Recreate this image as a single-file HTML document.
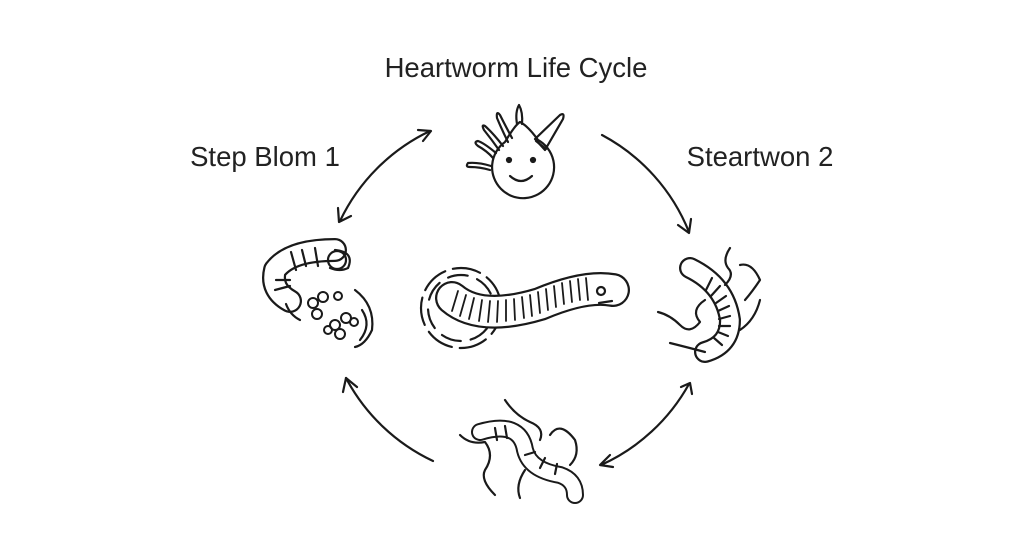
<!DOCTYPE html>
<html><head><style>
html,body{margin:0;padding:0;background:#fff;width:1024px;height:559px;overflow:hidden}
svg{display:block}
text{font-family:"Liberation Sans",sans-serif;fill:#222}
</style></head><body>
<svg width="1024" height="559" viewBox="0 0 1024 559" fill="none" stroke="#1a1a1a" stroke-width="2.2" stroke-linecap="round" stroke-linejoin="round">
<text x="516" y="77" font-size="27.5" text-anchor="middle" stroke="none">Heartworm Life Cycle</text>
<text x="265" y="166" font-size="27.5" text-anchor="middle" stroke="none">Step Blom 1</text>
<text x="760" y="166" font-size="27.5" text-anchor="middle" stroke="none">Steartwon 2</text>

<!-- arrows -->
<path d="M430 131 A190 190 0 0 0 340 221"/>
<path d="M418 130 L431 131 L423 141"/><path d="M338 208 L339 222 L351 216"/>
<path d="M602 135 A190 190 0 0 1 689 232"/>
<path d="M678 225 L689 233 L691 219"/>
<path d="M689 384 A190 190 0 0 1 601 465"/>
<path d="M681 387 L690 383 L692 394"/><path d="M610 455 L600 465 L613 467"/>
<path d="M433 461 A190 190 0 0 1 346 378"/>
<path d="M343 392 L346 378 L357 387"/>

<!-- top face -->
<path d="M505 142 Q515 125 520 122 Q528 126 538 140 A31 31 0 1 1 505 142 Z"/>
<circle cx="509" cy="160" r="2" fill="#1a1a1a"/><circle cx="533" cy="160" r="2" fill="#1a1a1a"/>
<path d="M510 176 Q521 186 532 176"/>
<path d="M517 124 Q515 112 519 105 Q523 112 522 124"/>
<path d="M512 138 Q505 125 500 115 Q496 110 497 118 Q502 130 508 142"/>
<path d="M503 146 Q493 133 485 126 Q481 124 484 130 Q492 140 499 150"/>
<path d="M496 153 Q484 143 478 141 Q473 142 478 146 Q487 151 493 158"/>
<path d="M491 166 Q478 162 468 163 Q465 167 470 167 Q480 167 490 170"/>
<path d="M535 139 L560 115 Q565 112 563 119 L545 150 Z"/><path d="M536 141 L546 149"/>

<!-- center worm -->
<circle cx="461" cy="308" r="40" stroke-dasharray="28 8"/>
<circle cx="461" cy="308" r="33" stroke-dasharray="20 10" stroke-dashoffset="8"/>
<path d="M452 298 Q480 322 540 304 Q585 285 613 290" stroke-width="34"/>
<path d="M452 298 Q480 322 540 304 Q585 285 613 290" stroke="#fff" stroke-width="29.5"/>
<g stroke-width="1.8">
<path d="M458 291 L452 311"/><path d="M466 295 L460 316"/><path d="M474 298 L469 319"/><path d="M482 300 L479 321"/><path d="M490 301 L488 322"/><path d="M498 301 L497 322"/><path d="M506 300 L506 321"/><path d="M514 299 L515 320"/><path d="M522 297 L524 318"/><path d="M530 295 L532 316"/><path d="M538 292 L540 313"/><path d="M546 289 L548 310"/><path d="M554 286 L556 307"/><path d="M562 283 L564 304"/><path d="M570 281 L572 302"/><path d="M578 279 L580 300"/><path d="M586 278 L588 300"/>
</g>
<circle cx="601" cy="291" r="4"/><path d="M599 303 L612 301"/>

<!-- left larva -->
<path d="M290 301 Q270 290 275 270 Q290 250 335 250" stroke-width="24"/>
<path d="M290 301 Q270 290 275 270 Q290 250 335 250" stroke="#fff" stroke-width="19.5"/>
<path d="M335 250 Q355 252 348 268 Q340 272 330 268"/>
<ellipse cx="337" cy="260" rx="9" ry="9"/>
<path d="M291 252 L296 270"/><path d="M302 250 L306 266"/><path d="M315 248 L318 266"/><path d="M276 280 L290 280"/><path d="M275 290 L290 286"/>
<path d="M286 304 Q290 315 300 320"/>
<g stroke-width="2">
<circle cx="313" cy="303" r="5"/><circle cx="323" cy="297" r="5"/><circle cx="317" cy="314" r="5"/><circle cx="338" cy="296" r="4"/>
<circle cx="335" cy="325" r="5"/><circle cx="346" cy="318" r="5"/><circle cx="340" cy="334" r="5"/><circle cx="328" cy="330" r="4"/><circle cx="354" cy="322" r="4"/>
</g>
<path d="M355 290 Q375 305 372 330 Q365 345 355 347"/>
<path d="M362 310 Q372 325 360 340"/>

<!-- right worm -->
<path d="M690 268 Q725 285 730 320 Q730 345 705 352" stroke-width="22"/>
<path d="M690 268 Q725 285 730 320 Q730 345 705 352" stroke="#fff" stroke-width="17.5"/>
<path d="M712 278 L706 290"/><path d="M720 286 L711 296"/><path d="M726 296 L716 303"/><path d="M729 306 L718 311"/><path d="M730 316 L719 319"/><path d="M730 326 L719 326"/><path d="M728 336 L718 332"/><path d="M722 345 L714 338"/>
<path d="M705 352 Q690 348 670 343"/>
<path d="M730 248 Q722 260 728 268 Q735 275 725 285"/>
<path d="M740 265 Q752 262 760 280 Q752 292 745 300"/>
<path d="M705 300 Q690 310 700 322 Q690 335 680 325 Q670 315 658 312"/>
<path d="M740 330 Q755 320 760 300"/>

<!-- bottom worms -->
<path d="M480 432 Q520 420 525 450 Q530 470 560 475 Q575 480 575 495" stroke-width="18"/>
<path d="M480 432 Q520 420 525 450 Q530 470 560 475 Q575 480 575 495" stroke="#fff" stroke-width="14"/>
<path d="M495 428 L497 440"/><path d="M505 426 L507 438"/><path d="M525 455 L535 452"/><path d="M540 468 L545 458"/><path d="M555 474 L557 464"/>
<path d="M505 400 Q515 415 530 422 Q545 428 540 440"/>
<path d="M460 435 Q470 445 485 442 Q495 455 485 470 Q480 480 495 495"/>
<path d="M550 435 Q560 420 575 440 Q580 455 570 465"/>
<path d="M525 470 Q515 485 520 498"/>
</svg>
</body></html>
